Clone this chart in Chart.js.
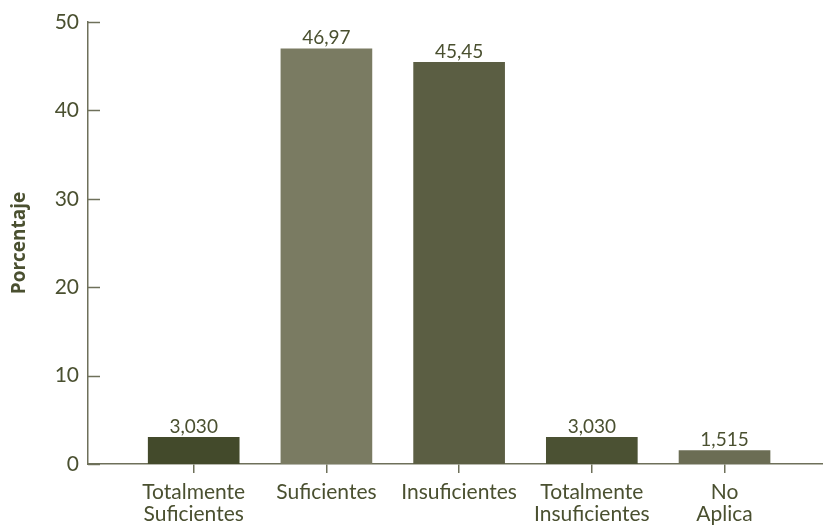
<!DOCTYPE html>
<html>
<head>
<meta charset="utf-8">
<script src="https://cdn.jsdelivr.net/npm/chart.js@4.4.1/dist/chart.umd.min.js"></script>
<style>
  html, body { margin: 0; padding: 0; background: #fff; }
  #wrap { width: 823px; height: 530px; }
</style>
</head>
<body>
<div id="wrap"><canvas id="myChart" width="823" height="530"></canvas></div>
<script>
const ctx = document.getElementById('myChart').getContext('2d');

// data
const categories = [
    ['Totalmente', 'Suficientes'],
    'Suficientes',
    'Insuficientes',
    ['Totalmente', 'Insuficientes'],
    ['No', 'Aplica']
];
const values = [3.030, 46.97, 45.45, 3.030, 1.515];
const valueLabels = ['3,030', '46,97', '45,45', '3,030', '1,515'];
const barColors = ['#434a2b', '#7a7b62', '#5b5e43', '#4b5133', '#6b6d54'];
const yTicks = [0, 10, 20, 30, 40, 50];

const textColor = '#4a5030';
const axisColor = '#6e705a';
const fontFamily = 'Lato, "Open Sans", sans-serif';

// y ticks drawn inwards + value labels above bars
const extras = {
    id: 'extras',
    afterDatasetsDraw(chart) {
        const c = chart.ctx;
        const y = chart.scales.y;
        const x = chart.scales.x;
        c.save();
        c.strokeStyle = axisColor;
        c.lineWidth = 1.5;
        yTicks.forEach(v => {
            const py = Math.round(y.getPixelForValue(v)) + 0.5;
            c.beginPath();
            c.moveTo(x.left, py);
            c.lineTo(x.left + 12, py);
            c.stroke();
        });
        c.fillStyle = textColor;
        c.font = '19px ' + fontFamily;
        c.textAlign = 'center';
        c.textBaseline = 'bottom';
        chart.getDatasetMeta(0).data.forEach((bar, i) => {
            c.fillText(valueLabels[i], bar.x, bar.y - 1);
        });
        c.restore();
    }
};

const myChart = new Chart(ctx, {
    type: 'bar',
    data: {
        datasets: [{
            data: values.map((v, i) => ({ x: i, y: v })),
            backgroundColor: barColors,
            barThickness: 91,
            borderWidth: 0
        }]
    },
    options: {
        responsive: false,
        animation: false,
        layout: { padding: { top: 22, right: 0, left: 0, bottom: 0 } },
        plugins: {
            legend: { display: false },
            tooltip: { enabled: false }
        },
        scales: {
            x: {
                type: 'linear',
                offset: false,
                min: -0.7965,
                max: 4.742,
                afterBuildTicks: (scale) => {
                    scale.ticks = categories.map((_, i) => ({ value: i }));
                },
                afterFit: (scale) => { scale.height = 66; },
                border: { display: true, color: axisColor, width: 1.5 },
                grid: {
                    offset: false,
                    drawOnChartArea: false,
                    drawTicks: true,
                    tickLength: 9,
                    color: axisColor,
                    lineWidth: 1.5
                },
                ticks: {
                    autoSkip: false,
                    maxRotation: 0,
                    padding: 8,
                    color: textColor,
                    font: { family: fontFamily, size: 21, lineHeight: 1.05 },
                    callback: (v) => categories[v]
                }
            },
            y: {
                min: 0,
                max: 50,
                afterBuildTicks: (scale) => {
                    scale.ticks = yTicks.map(v => ({ value: v }));
                },
                afterFit: (scale) => { scale.width = 88; },
                border: { display: true, color: axisColor, width: 1.5 },
                grid: { display: false, drawTicks: false },
                ticks: {
                    padding: 9,
                    color: textColor,
                    font: { family: fontFamily, size: 21 }
                },
                title: {
                    display: true,
                    text: 'Porcentaje',
                    color: textColor,
                    padding: { top: 8, bottom: 0 },
                    font: { family: '"Open Sans", sans-serif', size: 19, weight: 'bold', lineHeight: 1.2 }
                }
            }
        }
    },
    plugins: [extras]
});
</script>
</body>
</html>
